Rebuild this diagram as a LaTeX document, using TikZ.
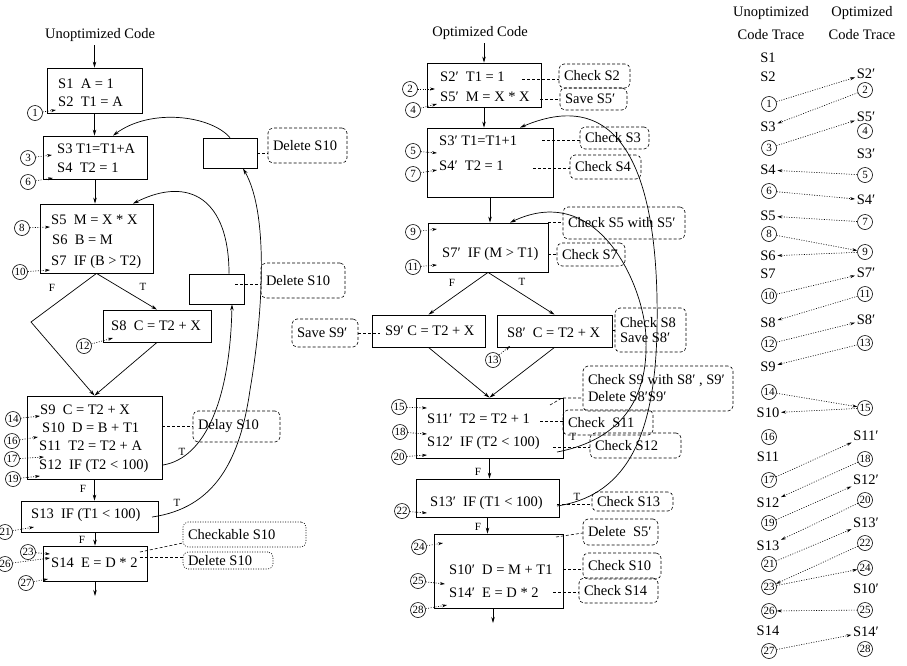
\documentclass[tikz,border=0pt]{standalone}
\usepackage{fontspec}
\setmainfont{Liberation Serif}
\usetikzlibrary{arrows.meta,calc}
\newcommand{\twosp}{\hspace*{0.5em}}
\newcommand{\lbx}[2]{\makebox[#1][l]{#2}}
\begin{document}
\begin{tikzpicture}[x=1pt,y=-1pt,
  every node/.style={font=\fontsize{14.5}{17}\selectfont},
  blk/.style={draw, line width=0.8pt, inner sep=0pt},
  stmt/.style={anchor=mid west, inner sep=0pt},
  num/.style={circle, draw, line width=0.6pt, inner sep=0pt, minimum size=15pt, font=\fontsize{11}{11}\selectfont},
  note/.style={draw, dash pattern=on 3pt off 2pt, rounded corners=5pt, line width=0.6pt, inner xsep=5pt, inner ysep=0pt},
  dnote/.style={draw, dash pattern=on 1pt off 1.5pt, rounded corners=5pt, line width=0.6pt, inner xsep=5pt, inner ysep=0pt},
  arr/.style={-{Stealth[length=6pt,width=3.5pt]}, line width=0.7pt},
  link/.style={dash pattern=on 3pt off 2pt, line width=0.6pt},
  ptr/.style={dash pattern=on 1pt off 1.5pt, line width=0.6pt, -{Stealth[length=5pt,width=3pt]}},
  lab/.style={font=\fontsize{11}{11}\selectfont, inner sep=0pt},
  tr/.style={inner sep=1.5pt}
]
\useasboundingbox (0,0) rectangle (907,665);

% ---------------- Unoptimized code ----------------
\node (tU) at (100,35) {Unoptimized Code};
\node[blk, minimum width=95pt, minimum height=45pt] (b1) at (94.5,90.5) {};
\node[stmt] (b1a) at (58,86) {S1\twosp A = 1};
\node[stmt] (b1b) at (58,104) {S2\twosp T1 = A};
\node[blk, minimum width=104pt, minimum height=43pt] (b2) at (95,157.5) {};
\node[stmt] (b2a) at (57,151) {S3 T1=T1+A};
\node[stmt] (b2b) at (57,170) {S4\twosp T2 = 1};
\node[blk, minimum width=113pt, minimum height=69pt] (b3) at (96.5,238.5) {};
\node[stmt] (b3a) at (51,222) {S5\twosp M = X * X};
\node[stmt] (b3b) at (52,242) {S6\twosp B = M};
\node[stmt] (b3c) at (51,263) {S7\twosp IF (B > T2)};
\node[blk, minimum width=108pt, minimum height=32pt] (b8) at (157,326) {};
\node[stmt] (b8a) at (111,328) {S8\twosp C = T2 + X};
\node[blk, minimum width=135pt, minimum height=83pt] (b4) at (94.5,437.5) {};
\node[stmt] (b4a) at (40,412) {S9\twosp C = T2 + X};
\node[stmt] (b4b) at (42,430) {S10\twosp D = B + T1};
\node[stmt] (b4c) at (39,448) {S11\twosp T2 = T2 + A};
\node[stmt] (b4d) at (39,467) {S12\twosp IF (T2 < 100)};
\node[blk, minimum width=137pt, minimum height=31pt] (b13) at (89.5,516.5) {};
\node[stmt] (b13a) at (31,516) {S13\twosp IF (T1 < 100)};
\node[blk, minimum width=104pt, minimum height=35pt] (b14) at (95,563.5) {};
\node[stmt] (b14a) at (51,565) {S14\twosp E = D * 2};
\node[blk, minimum width=54pt, minimum height=30pt] (bx1) at (230,153) {};
\node[blk, minimum width=55pt, minimum height=30pt] (bx2) at (216.5,289) {};

\draw[arr] (b1.north |- tU.south) -- (b1.north);
\draw[arr] (b1.south) -- (b1.south |- b2.north);
\draw[arr] (b2.south) -- (b2.south |- b3.north);
\coordinate (dL) at (31,322);
\draw[arr] (b3.south) -- (dL) -- (b4.north);
\draw[arr] (b3.south) -- (b8.north);
\draw[arr] (b8.south) -- (b4.north);
\draw[arr] (b4.south) -- (b4.south |- b13.north);
\draw[arr] (b14.north |- b13.south) -- (b14.north);
\coordinate (e14) at (95,596);
\draw[arr] (b14.south) -- (e14);

\node[lab] (lF1) at (52,288) {F};
\node[lab] (lT1) at (143,287) {T};
\node[lab] (lT2) at (182,452) {T};
\node[lab] (lT3) at (177,503) {T};
\node[lab] (lF2) at (83,489) {F};
\node[lab] (lF3) at (82,540) {F};

\draw[arr] (bx1.north) .. controls (210,115) and (150,108) .. ($(b2.north)+(18,0)$);
\draw[arr] ($(bx2.north)+(12.5,0)$) .. controls (229,200) and (190,175) .. ($(b3.north)+(36.5,0)$);
\coordinate (s12r) at (163,465);
\draw[arr] (s12r) .. controls (205,458) and (230,400) .. ($(bx2.south)+(15.5,0)$);
\coordinate (s13r) at (152,517);
\draw[arr] (s13r) .. controls (215,508) and (240,460) .. (250,390) .. controls (262,320) and (270,215) .. ($(bx1.south)+(13,0)$);

\node[note, minimum height=35pt] (ds1) at (307.5,145.5) {\lbx{69pt}{Delete S10}};
\draw[link] (bx1.east) -- (bx1.east -| ds1.west);
\node[note, minimum height=35pt] (ds2) at (303,280.5) {\lbx{74pt}{Delete S10}};
\coordinate (q2) at (235,284);
\draw[link] (q2) -- (q2 -| ds2.west);
\node[note, minimum height=31pt] (dly) at (236.5,426.5) {\lbx{77pt}{Delay S10}};
\draw[link] (b4.east |- dly.west) -- (dly.west);
\node[dnote, minimum height=25pt] (chk) at (244.5,534.5) {\lbx{113pt}{Checkable S10}};
\node[dnote, minimum height=17pt] (dl3) at (228,560.5) {\lbx{80pt}{Delete S10}};
\coordinate (q3) at (140,552);
\coordinate (q4) at (140,557);
\draw[link] (q3) -- ($(chk.west)+(0,8.5)$);
\draw[link] (q4) -- (q4 -| dl3.west);

% ---------------- Optimized code ----------------
\node (tO) at (480,33) {Optimized Code};
\node[blk, minimum width=114pt, minimum height=44pt] (m1) at (484,85) {};
\node[stmt] (m1a) at (440,79) {S2′\twosp T1 = 1};
\node[stmt] (m1b) at (440,99) {S5′\twosp M = X * X};
\node[blk, minimum width=126pt, minimum height=69pt] (m2) at (490,162.5) {};
\node[stmt] (m2a) at (439,143) {S3′ T1=T1+1};
\node[stmt] (m2b) at (439,168) {S4′\twosp T2 = 1};
\node[blk, minimum width=120pt, minimum height=49pt] (m3) at (488,247.5) {};
\node[stmt] (m3a) at (442,255) {S7′\twosp IF (M > T1)};
\node[blk, minimum width=113pt, minimum height=32pt] (m9) at (428.5,331) {};
\node[stmt] (m9a) at (385,333) {S9′ C = T2 + X};
\node[blk, minimum width=115pt, minimum height=32pt] (m8) at (554.5,331) {};
\node[stmt] (m8a) at (507,335) {S8′\twosp C = T2 + X};
\node[blk, minimum width=147pt, minimum height=60pt] (m11) at (489.5,428) {};
\node[stmt] (m11a) at (427,421) {S11′\twosp T2 = T2 + 1};
\node[stmt] (m11b) at (427,444) {S12′\twosp IF (T2 < 100)};
\node[blk, minimum width=143pt, minimum height=38pt] (m13) at (487.5,498) {};
\node[stmt] (m13a) at (430,504) {S13′\twosp IF (T1 < 100)};
\node[blk, minimum width=129pt, minimum height=74pt] (m14) at (498.5,571) {};
\node[stmt] (m14a) at (449,572) {S10′\twosp D = M + T1};
\node[stmt] (m14b) at (449,595) {S14′\twosp E = D * 2};

\draw[arr] (m1.north |- tO.south) -- (m1.north);
\draw[arr] (m1.south) -- (m1.south |- m2.north);
\draw[arr] (m2.south) -- (m2.south |- m3.north);
\draw[arr] (m3.south) -- (m9.north);
\draw[arr] (m3.south) -- (m8.north);
\draw[arr] (m9.south) -- (m11.north);
\draw[arr] (m8.south) -- (m11.north);
\draw[arr] (m11.south) -- (m11.south |- m13.north);
\draw[arr] (m13.south) -- (m13.south |- m14.north);
\coordinate (e28) at (493,623);
\draw[arr] (e28 |- m14.south) -- (e28);

\node[lab] (mF1) at (452,283) {F};
\node[lab] (mT1) at (522,282) {T};
\node[lab] (mT2) at (573,437) {T};
\node[lab] (mT3) at (577,497) {T};
\node[lab] (mF2) at (478,472) {F};
\node[lab] (mF3) at (478,527) {F};

\node[note, minimum height=24pt] (cS2) at (594.5,76) {\lbx{61pt}{Check S2}};
\node[note, minimum height=22pt] (sS5) at (593.5,99) {\lbx{57pt}{Save S5′}};
\node[note, minimum height=22pt] (cS3) at (614.5,138) {\lbx{59pt}{Check S3}};
\node[note, minimum height=24pt] (cS4) at (605.5,167) {\lbx{61pt}{Check S4}};
\node[note, minimum height=32pt] (cS5) at (624,223) {\lbx{112pt}{Check S5 with S5′}};
\node[note, minimum height=23pt] (cS7) at (591,254.5) {\lbx{58pt}{Check S7}};
\node[note, minimum height=28pt] (sS9) at (325,333) {\lbx{56pt}{Save S9′}};
\node[note, minimum height=44pt, align=left, font=\fontsize{14.5}{15.5}\selectfont] (cS8) at (650.5,330) {\lbx{61pt}{Check S8}\\Save S8′};
\node[note, minimum height=45pt, align=left] (cS9) at (658,388.5) {\lbx{140pt}{Check S9 with S8′ , S9′}\\Delete S8′S9′};
\node[note, minimum height=25pt] (cS11) at (608,422.5) {\lbx{80pt}{Check\twosp S11}};
\node[note, minimum height=25pt] (cS12) at (635.5,445.5) {\lbx{81pt}{Check S12}};
\node[note, minimum height=19pt] (cS13) at (632.5,501.5) {\lbx{71pt}{Check S13}};
\node[note, minimum height=26pt] (dS5) at (620.5,532) {\lbx{65pt}{Delete\twosp S5′}};
\node[note, minimum height=26pt] (cS10) at (622,566) {\lbx{68pt}{Check S10}};
\node[note, minimum height=25pt] (cS14) at (618.5,590.5) {\lbx{69pt}{Check S14}};

\coordinate (k2) at (522,79);   \draw[link] (k2) -- (k2 -| cS2.west);
\coordinate (k5) at (540,99);   \draw[link] (k5) -- (k5 -| sS5.west);
\coordinate (k3) at (542,140);  \draw[link] (k3) -- (k3 -| cS3.west);
\coordinate (k4) at (533,168);  \draw[link] (k4) -- (k4 -| cS4.west);
\draw[link] (m3.north east) -- (m3.north east -| cS5.west);
\draw[link] (m3.east |- cS7.west) -- (cS7.west);
\coordinate (k9) at (380,333);  \draw[link] (sS9.east) -- (k9);
\draw[link] (m8.east |- cS8.west) -- (cS8.west);
\coordinate (k9a) at (550,405); \coordinate (k9b) at (562,398);
\draw[link] (k9a) -- (k9b) -- (k9b -| cS9.west);
\coordinate (k11) at (540,421); \draw[link] (k11) -- (k11 -| cS11.west);
\coordinate (k12) at (553,447); \draw[link] (k12) -- (k12 -| cS12.west);
\coordinate (k13) at (557,504); \draw[link] (k13) -- (k13 -| cS13.west);
\coordinate (k14a) at (556,537); \draw[link] (k14a) -- ($(dS5.west)+(0,1)$);
\coordinate (k10) at (563,569); \draw[link] (k10) -- (k10 -| cS10.west);
\coordinate (k14) at (553,592); \draw[link] (k14) -- (k14 -| cS14.west);

\coordinate (t12) at (557,452);
\draw[arr] (t12) .. controls (620,440) and (648,400) .. (646,340) .. controls (646,290) and (600,180) .. ($(m3.north)+(22,0)$);
\coordinate (t13) at (557,506);
\draw[arr] (t13) .. controls (630,495) and (655,430) .. (657,330) .. controls (660,170) and (620,85) .. ($(m2.north)+(30,0)$);

% ---------------- numbered check points ----------------
\foreach \n/\cx/\cy/\px/\py in {1/35/113/56/110, 3/28/158/52/155, 6/28/182/53/178, 8/22/228/50/227, 10/20/272/50/270, 12/84/346/113/338, 14/13/419/40/416, 16/12/441/38/437, 17/12/459/44/457, 19/13/479/40/476, 21/5/532/34/527, 23/28/552/50/554, 26/5/564/50/558, 27/26/583/48/579, 2/410/89/435/89, 4/413/110/437/104, 5/413/151/437/153, 7/413/174/437/170, 9/413/232/437/229, 11/413/267/437/265, 13/493/360/510/346, 15/399/407/427/408, 18/400/432/427/434, 20/399/457/427/455, 22/402/511/427/513, 24/419/547/443/543, 25/418/581/445/584, 28/418/610/447/605}
{ \node[num] (n\n) at (\cx,\cy) {\n}; \coordinate (p\n) at (\px,\py); \draw[ptr] (n\n) -- (p\n); }

% ---------------- traces ----------------
\node (hU1) at (771,13) {Unoptimized};
\node (hU2) at (771,35) {Code Trace};
\node (hO1) at (862,13) {Optimized};
\node (hO2) at (862,35) {Code Trace};

\foreach \nm/\t/\y in {uS1/S1/58, uS2/S2/77, uS3/S3/127, uS4/S4/170, uS5/S5/216, uS6/S6/256, uS7/S7/274, uS8/S8/323, uS9/S9/367, uS10/S10/413, uS11/S11/457, uS12/S12/503, uS13/S13/546, uS14/S14/631}
  \node[tr] (\nm) at (768,\y) {\t};
\foreach \nm/\t/\y in {uC1/1/104, uC3/3/148, uC6/6/191, uC8/8/234, uC10/10/296, uC12/12/344, uC14/14/392, uC16/16/437, uC17/17/480, uC19/19/523, uC21/21/564, uC23/23/587, uC26/26/611, uC27/27/651}
  \node[num] (\nm) at (769,\y) {\t};
\foreach \nm/\t/\y in {oS2/S2′/74, oS5/S5′/117, oS3/S3′/154, oS4/S4′/200, oS7/S7′/273, oS8/S8′/320, oS11/S11′/436, oS12/S12′/480, oS13/S13′/523, oS10/S10′/589, oS14/S14′/632}
  \node[tr] (\nm) at (866,\y) {\t};
\foreach \nm/\t/\y in {oC2/2/90, oC4/4/131, oC5/5/175, oC7/7/222, oC9/9/252, oC11/11/294, oC13/13/343, oC15/15/408, oC18/18/459, oC20/20/500, oC22/22/543, oC24/24/568, oC25/25/610, oC28/28/649}
  \node[num] (\nm) at (865,\y) {\t};

\foreach \a/\b in {uC1/oS2, oC2/uS3, uC3/oS5, oC5/uS4, uC6/oS4, oC7/uS5, uC8/oC9, oC9/uS6, uC10/oS7, oC11/uS8, uC12/oS8, oC13/uS9, uC14/oC15, oC15/uS10, uC17/oS11, oC18/uS12, uC19/oS12, oC20/uS13, uC21/oS13, oC22/uC23, uC23/oC24, oC25/uC26, uC27/oS14}
  \draw[ptr] (\a) -- (\b);
\end{tikzpicture}
\end{document}
